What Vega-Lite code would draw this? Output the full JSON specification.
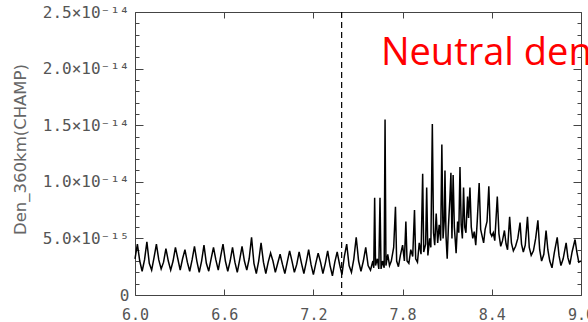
{
  "$schema": "https://vega.github.io/schema/vega-lite/v6.json",
  "width": 446,
  "height": 283,
  "autosize": "none",
  "padding": {"left": 135, "top": 12, "right": 7, "bottom": 27},
  "background": "white",
  "config": {
    "view": {"stroke": null},
    "axis": {"domainColor": "#444", "tickColor": "#444", "labelColor": "#555", "titleColor": "#666", "labelFont": "DejaVu Sans Mono", "titleFont": "DejaVu Sans", "grid": false, "labelFontSize": 15}
  },
  "datasets": {
    "den": [
      {"t":6.000,"d":3.2},{"t":6.016,"d":4.5},{"t":6.032,"d":3.0},{"t":6.048,"d":2.1},
      {"t":6.064,"d":3.1},{"t":6.080,"d":4.7},{"t":6.096,"d":2.8},{"t":6.112,"d":2.2},
      {"t":6.128,"d":3.3},{"t":6.144,"d":4.5},{"t":6.160,"d":3.1},{"t":6.176,"d":2.3},
      {"t":6.192,"d":2.9},{"t":6.208,"d":4.1},{"t":6.224,"d":3.0},{"t":6.240,"d":2.2},
      {"t":6.256,"d":3.0},{"t":6.272,"d":4.2},{"t":6.288,"d":3.2},{"t":6.304,"d":2.2},
      {"t":6.320,"d":3.2},{"t":6.336,"d":4.0},{"t":6.352,"d":2.9},{"t":6.368,"d":2.1},
      {"t":6.384,"d":3.1},{"t":6.400,"d":4.3},{"t":6.416,"d":3.0},{"t":6.432,"d":2.0},
      {"t":6.448,"d":3.0},{"t":6.464,"d":4.4},{"t":6.480,"d":2.8},{"t":6.496,"d":2.1},
      {"t":6.512,"d":3.2},{"t":6.528,"d":4.2},{"t":6.544,"d":3.1},{"t":6.560,"d":2.2},
      {"t":6.576,"d":3.4},{"t":6.592,"d":4.5},{"t":6.608,"d":3.0},{"t":6.624,"d":2.1},
      {"t":6.640,"d":3.0},{"t":6.656,"d":4.2},{"t":6.672,"d":2.9},{"t":6.688,"d":2.0},
      {"t":6.704,"d":3.1},{"t":6.720,"d":4.3},{"t":6.736,"d":3.0},{"t":6.752,"d":2.2},
      {"t":6.768,"d":3.2},{"t":6.784,"d":5.1},{"t":6.800,"d":2.8},{"t":6.816,"d":1.9},
      {"t":6.832,"d":3.0},{"t":6.848,"d":4.6},{"t":6.864,"d":2.9},{"t":6.880,"d":1.9},
      {"t":6.896,"d":2.9},{"t":6.912,"d":3.7},{"t":6.928,"d":3.0},{"t":6.944,"d":2.0},
      {"t":6.960,"d":2.8},{"t":6.976,"d":3.6},{"t":6.992,"d":2.7},{"t":7.008,"d":1.9},
      {"t":7.024,"d":2.9},{"t":7.040,"d":3.9},{"t":7.056,"d":3.0},{"t":7.072,"d":2.0},
      {"t":7.088,"d":2.7},{"t":7.104,"d":3.8},{"t":7.120,"d":2.8},{"t":7.136,"d":1.9},
      {"t":7.152,"d":2.9},{"t":7.168,"d":4.0},{"t":7.184,"d":2.7},{"t":7.200,"d":1.8},
      {"t":7.216,"d":2.8},{"t":7.232,"d":3.7},{"t":7.248,"d":2.9},{"t":7.264,"d":1.9},
      {"t":7.280,"d":2.8},{"t":7.296,"d":3.9},{"t":7.312,"d":2.6},{"t":7.328,"d":1.7},
      {"t":7.344,"d":2.9},{"t":7.360,"d":3.8},{"t":7.376,"d":2.7},{"t":7.392,"d":1.8},
      {"t":7.408,"d":3.4},{"t":7.424,"d":4.5},{"t":7.440,"d":2.6},{"t":7.456,"d":2.0},
      {"t":7.472,"d":3.2},{"t":7.488,"d":5.1},{"t":7.504,"d":3.0},{"t":7.520,"d":2.1},
      {"t":7.536,"d":3.0},{"t":7.552,"d":4.2},{"t":7.568,"d":2.6},{"t":7.584,"d":2.2},
      {"t":7.600,"d":3.0},{"t":7.606,"d":2.4},{"t":7.612,"d":8.6},{"t":7.618,"d":2.6},
      {"t":7.630,"d":3.2},{"t":7.640,"d":2.3},{"t":7.648,"d":8.6},{"t":7.655,"d":2.3},
      {"t":7.665,"d":3.0},{"t":7.676,"d":2.4},{"t":7.682,"d":15.5},{"t":7.688,"d":2.6},
      {"t":7.700,"d":3.6},{"t":7.712,"d":2.6},{"t":7.724,"d":3.0},{"t":7.740,"d":4.2},
      {"t":7.752,"d":7.8},{"t":7.760,"d":3.0},{"t":7.772,"d":2.5},{"t":7.785,"d":3.5},
      {"t":7.800,"d":4.4},{"t":7.812,"d":3.0},{"t":7.822,"d":6.5},{"t":7.830,"d":3.0},
      {"t":7.842,"d":2.8},{"t":7.855,"d":4.0},{"t":7.868,"d":3.4},{"t":7.880,"d":7.5},
      {"t":7.888,"d":3.2},{"t":7.900,"d":2.9},{"t":7.912,"d":4.6},{"t":7.924,"d":3.6},
      {"t":7.935,"d":10.7},{"t":7.942,"d":3.8},{"t":7.955,"d":4.5},{"t":7.962,"d":9.5},
      {"t":7.970,"d":3.5},{"t":7.982,"d":5.0},{"t":7.990,"d":4.2},{"t":8.000,"d":15.1},
      {"t":8.008,"d":5.5},{"t":8.016,"d":4.4},{"t":8.026,"d":7.2},{"t":8.036,"d":4.6},
      {"t":8.046,"d":6.2},{"t":8.056,"d":4.8},{"t":8.064,"d":13.3},{"t":8.072,"d":5.0},
      {"t":8.080,"d":6.5},{"t":8.085,"d":11.0},{"t":8.092,"d":5.2},{"t":8.100,"d":3.2},
      {"t":8.108,"d":6.0},{"t":8.118,"d":8.5},{"t":8.125,"d":10.8},{"t":8.132,"d":5.0},
      {"t":8.140,"d":10.6},{"t":8.148,"d":6.0},{"t":8.160,"d":3.7},{"t":8.170,"d":6.5},
      {"t":8.178,"d":5.5},{"t":8.186,"d":11.3},{"t":8.194,"d":6.2},{"t":8.202,"d":5.0},
      {"t":8.210,"d":9.5},{"t":8.218,"d":6.0},{"t":8.226,"d":5.5},{"t":8.237,"d":8.7},
      {"t":8.244,"d":6.8},{"t":8.253,"d":9.5},{"t":8.262,"d":6.0},{"t":8.272,"d":5.0},
      {"t":8.282,"d":5.6},{"t":8.292,"d":4.4},{"t":8.302,"d":6.5},{"t":8.315,"d":9.9},
      {"t":8.325,"d":5.8},{"t":8.335,"d":5.2},{"t":8.345,"d":4.6},{"t":8.355,"d":5.8},
      {"t":8.368,"d":6.5},{"t":8.380,"d":9.6},{"t":8.390,"d":5.5},{"t":8.400,"d":5.2},
      {"t":8.410,"d":5.5},{"t":8.420,"d":4.8},{"t":8.437,"d":8.7},{"t":8.448,"d":5.4},
      {"t":8.460,"d":4.3},{"t":8.472,"d":4.8},{"t":8.485,"d":5.7},{"t":8.496,"d":4.5},
      {"t":8.506,"d":4.0},{"t":8.520,"d":6.9},{"t":8.532,"d":4.6},{"t":8.545,"d":3.9},
      {"t":8.560,"d":4.3},{"t":8.575,"d":5.0},{"t":8.590,"d":6.4},{"t":8.600,"d":4.5},
      {"t":8.612,"d":3.8},{"t":8.625,"d":4.4},{"t":8.640,"d":6.9},{"t":8.652,"d":4.2},
      {"t":8.665,"d":3.5},{"t":8.680,"d":3.9},{"t":8.695,"d":5.0},{"t":8.710,"d":6.6},
      {"t":8.722,"d":4.0},{"t":8.735,"d":3.0},{"t":8.750,"d":3.6},{"t":8.765,"d":5.7},
      {"t":8.777,"d":4.0},{"t":8.790,"d":3.0},{"t":8.805,"d":2.4},{"t":8.820,"d":3.7},
      {"t":8.840,"d":5.1},{"t":8.852,"d":3.5},{"t":8.865,"d":2.6},{"t":8.880,"d":3.2},
      {"t":8.900,"d":4.6},{"t":8.912,"d":3.3},{"t":8.925,"d":2.7},{"t":8.940,"d":3.8},
      {"t":8.960,"d":4.9},{"t":8.972,"d":3.8},{"t":8.985,"d":2.9},{"t":9.000,"d":3.0}
    ],
    "marker": [{"t": 7.39}],
    "label": [{"t": 7.654, "d": 20.3, "text": "Neutral density"}]
  },
  "resolve": {"axis": {"x": "independent", "y": "independent"}},
  "layer": [
    {
      "data": {"name": "den"},
      "mark": {"type": "line", "color": "black", "strokeWidth": 1.5},
      "encoding": {
        "x": {"field": "t", "type": "quantitative", "scale": {"domain": [6, 9], "nice": false, "zero": false},
          "axis": {"orient": "bottom", "title": null, "values": [6, 6.6, 7.2, 7.8, 8.4, 9], "format": ".1f", "tickSize": -6, "labelPadding": 18, "labelFlush": false}},
        "y": {"field": "d", "type": "quantitative", "scale": {"domain": [0, 25], "nice": false},
          "axis": {"orient": "left", "title": "Den_360km(CHAMP)", "titleFontSize": 16.5, "titleFontWeight": "normal", "titleX": -115, "titleY": 137, "titleBaseline": "middle",
            "values": [0, 5, 10, 15, 20, 25], "tickSize": -8,
            "labelPadding": 14, "labelFontSize": 16, "labelFlush": false,
            "labelExpr": "datum.value === 0 ? '0' : datum.value === 5 ? '5.0×10⁻¹⁵' : datum.value === 10 ? '1.0×10⁻¹⁴' : datum.value === 15 ? '1.5×10⁻¹⁴' : datum.value === 20 ? '2.0×10⁻¹⁴' : '2.5×10⁻¹⁴'"}}
      }
    },
    {
      "data": {"name": "marker"},
      "mark": {"type": "rule", "color": "black", "strokeWidth": 1.2, "strokeDash": [6, 4]},
      "encoding": {
        "x": {"field": "t", "type": "quantitative", "axis": {"orient": "top", "title": null, "values": [6, 6.6, 7.2, 7.8, 8.4, 9], "labels": false, "tickSize": -6}}
      }
    },
    {
      "data": {"name": "label"},
      "mark": {"type": "point", "opacity": 0},
      "encoding": {
        "x": {"field": "t", "type": "quantitative", "axis": null},
        "y": {"field": "d", "type": "quantitative", "axis": {"orient": "left", "title": null, "labels": false, "domain": false,
          "values": [1,2,3,4,6,7,8,9,11,12,13,14,16,17,18,19,21,22,23,24], "tickSize": -4}}
      }
    },
    {
      "data": {"name": "label"},
      "mark": {"type": "text", "color": "#ff0000", "font": "Open Sans", "fontSize": 38, "align": "left", "baseline": "alphabetic"},
      "encoding": {
        "x": {"field": "t", "type": "quantitative", "axis": null},
        "y": {"field": "d", "type": "quantitative", "axis": {"orient": "right", "title": null, "labels": false,
          "values": [0,1,2,3,4,5,6,7,8,9,10,11,12,13,14,15,16,17,18,19,20,21,22,23,24,25],
          "tickSize": {"condition": {"test": "datum.value % 5 === 0", "value": -8}, "value": -4}}},
        "text": {"field": "text"}
      }
    }
  ]
}
